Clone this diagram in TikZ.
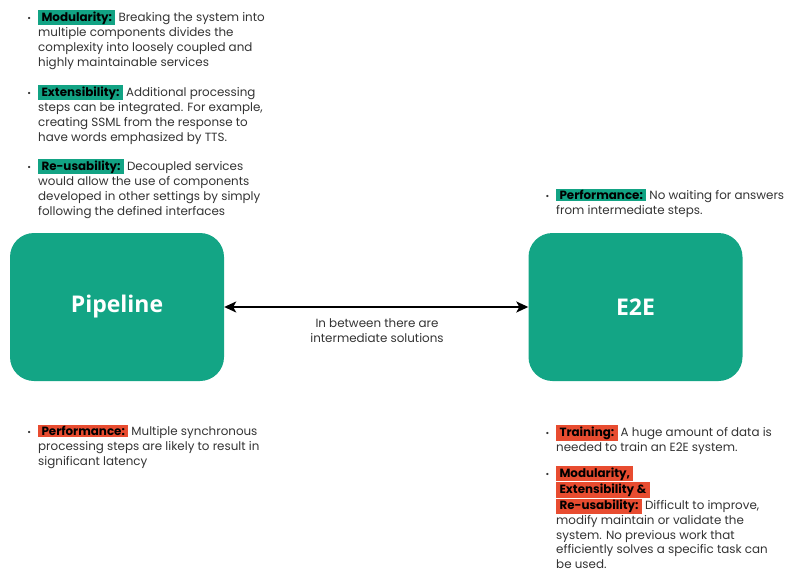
\documentclass[tikz,border=0pt]{standalone}
\usepackage{fontspec}
\setmainfont{Poppins}
\newfontfamily\labelfont{Open Sans}
\usetikzlibrary{arrows.meta,positioning}

\definecolor{hlteal}{RGB}{18,163,132}
\definecolor{hlred}{RGB}{232,76,48}
\definecolor{boxteal}{RGB}{19,165,133}
\definecolor{bodygray}{RGB}{51,51,51}
\setlength{\fboxsep}{1.3pt}
\newcommand{\hlg}[1]{\colorbox{hlteal}{\hspace{2pt}\textbf{\color{black}#1}\hspace{2pt}}}
\newcommand{\hlr}[1]{\colorbox{hlred}{\hspace{2pt}\textbf{\color{black}#1}\hspace{2pt}}}
\newcommand{\dotmark}{\llap{{\small\textbullet}\hspace{7pt}}}

\begin{document}
\begin{tikzpicture}[x=1pt,y=-1pt,>={Stealth[length=12pt,width=11pt,inset=3pt]},
  note/.style={anchor=north west,align=left,inner sep=0pt,text=bodygray,font=\fontsize{11.9}{15}\selectfont},
  bigbox/.style={fill=boxteal,rounded corners=24pt,minimum width=214pt,minimum height=148pt,text=white,font=\labelfont\fontsize{23}{27}\selectfont\bfseries}]
\useasboundingbox (0,0) rectangle (789,572);
% the two approaches
\node[bigbox] (pipe) at (117,307) {Pipeline};
\node[bigbox] (e2e) at (635.5,307) {E2E};
\draw[<->,line width=1.8pt] (pipe) -- (e2e);
\node[note,anchor=north,align=center] (between) at (377,318) {In between there are\\intermediate solutions};
% pipeline pros
\node[note] (mod) at (38,10) {\dotmark\hlg{Modularity:} Breaking the system into\\multiple components divides the\\complexity into loosely coupled and\\highly maintainable services};
\node[note] (ext) at (38,85) {\dotmark\hlg{Extensibility:} Additional processing\\steps can be integrated. For example,\\creating SSML from the response to\\have words emphasized by TTS.};
\node[note] (reuse) at (38,159) {\dotmark\hlg{Re-usability:} Decoupled services\\would allow the use of components\\developed in other settings by simply\\following the defined interfaces};
% pipeline cons
\node[note] (perfl) at (38,425) {\dotmark\hlr{Performance:} Multiple synchronous\\processing steps are likely to result in\\significant latency};
% e2e pros
\node[note] (perfr) at (556,189) {\dotmark\hlg{Performance:} No waiting for answers\\from intermediate steps.};
% e2e cons
\node[note] (train) at (556,425) {\dotmark\hlr{Training:} A huge amount of data is\\needed to train an E2E system.};
\node[note,font=\fontsize{11.9}{14.7}\selectfont] (modr) at (556,466) {\dotmark\hlr{Modularity,}\\\hlr{Extensibility \&}\\\hlr{Re-usability:} Difficult to improve,\\modify maintain or validate the\\system. No previous work that\\efficiently solves a specific task can\\be used.};
\end{tikzpicture}
\end{document}
